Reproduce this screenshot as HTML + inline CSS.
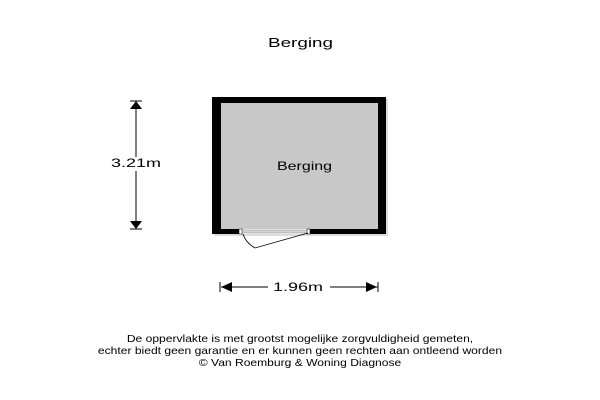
<html><head><style>
body{margin:0;background:#fff;width:600px;height:400px;position:relative;font-family:"Liberation Sans",sans-serif;color:#000}
.t{position:absolute;font-size:12px;white-space:nowrap;transform-origin:0 0}
</style></head><body>
<svg width="600" height="400" style="position:absolute;left:0;top:0">
<rect x="214" y="99" width="174" height="137" fill="#ddd"/>
<rect x="212" y="97" width="174" height="137" fill="#000"/>
<rect x="221" y="103" width="157" height="126" fill="#c8c8c8"/>
<rect x="240" y="229" width="69" height="5" fill="#fff"/>
<rect x="241" y="230" width="67" height="3" fill="#d4d4d4" stroke="#888" stroke-width="0.5"/>
<rect x="239" y="229" width="3" height="5" fill="#fff" stroke="#000" stroke-width="0.5"/>
<rect x="307" y="229" width="3" height="5" fill="#fff" stroke="#000" stroke-width="0.5"/>
<path d="M243 234 Q246 243 255 248 L308 233" fill="none" stroke="#000" stroke-width="0.8"/>
<line x1="136" y1="102" x2="136" y2="228" stroke="#000"/>
<line x1="130" y1="101" x2="142" y2="101" stroke="#000"/>
<line x1="130" y1="229" x2="142" y2="229" stroke="#000"/>
<polygon points="130,109 142,109 136,101" fill="#000"/>
<polygon points="130,221 142,221 136,229" fill="#000"/>
<line x1="221" y1="287" x2="378" y2="287" stroke="#000"/>
<line x1="220" y1="282" x2="220" y2="292" stroke="#000"/>
<line x1="378" y1="282" x2="378" y2="292" stroke="#000"/>
<polygon points="232,282 232,292 221,287" fill="#000"/>
<polygon points="366,282 366,292 377,287" fill="#000"/>
</svg>
<div class="t" style="left:268px;top:35px;font-size:13px;transform:scaleX(1.45)">Berging</div>
<div class="t" style="left:277px;top:159px;transform:scaleX(1.33)">Berging</div>
<div style="position:absolute;left:110px;top:157px;width:52px;height:14px;background:#fff"></div>
<div class="t" style="left:111px;top:156px;transform:scaleX(1.5)">3.21m</div>
<div style="position:absolute;left:268px;top:281px;width:62px;height:12px;background:#fff"></div>
<div class="t" style="left:273px;top:280px;transform:scaleX(1.5)">1.96m</div>
<div class="t" style="left:0;width:600px;text-align:center;top:333px;font-size:10.5px;line-height:12px;transform:scaleX(1.15);transform-origin:300px 0">De oppervlakte is met grootst mogelijke zorgvuldigheid gemeten,<br>echter biedt geen garantie en er kunnen geen rechten aan ontleend worden<br>© Van Roemburg &amp; Woning Diagnose</div>
</body></html>
